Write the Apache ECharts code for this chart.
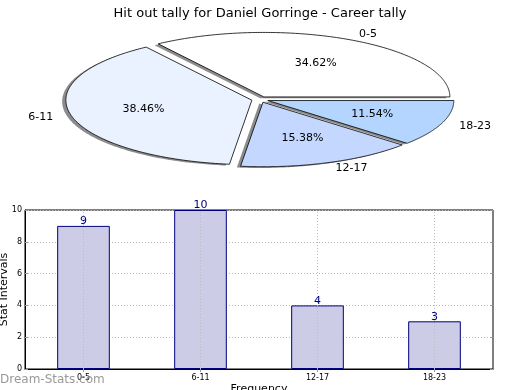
<!DOCTYPE html>
<html>
<head>
<meta charset="utf-8">
<script src="https://cdn.jsdelivr.net/npm/echarts@6/dist/echarts.min.js"></script>
<style>
html,body{margin:0;padding:0;background:#fff;}
#c{width:520px;height:390px;}
</style>
</head>
<body>
<div id="c"></div>
<script>
// ---- data ----
const titleText = 'Hit out tally for Daniel Gorringe - Career tally';
const categories = ['0-5', '6-11', '12-17', '18-23'];
const values = [9, 10, 4, 3];
const yAxisName = 'Stat Intervals';
const xAxisName = 'Frequency';
const watermark = 'Dream-Stats.com';

// ---- style ----
const pieColors = ['#ffffff', '#ebf2ff', '#c4d8ff', '#b4d5ff'];
const PIE = { cx: 260, cy: 99.5, rx: 186, ry: 64.5, explode: 0.045, labelDist: 1.1, pctDist: 0.6 };
const FONT = 'DejaVu Sans';

const total = values.reduce((a, b) => a + b, 0);

function wedge(idx, dx, dy) {
  let cum = 0;
  for (let i = 0; i < idx; i++) cum += values[i];
  const t1 = cum / total * 2 * Math.PI;
  const t2 = (cum + values[idx]) / total * 2 * Math.PI;
  const mid = (t1 + t2) / 2;
  const ox = PIE.cx + PIE.explode * PIE.rx * Math.cos(mid) + dx;
  const oy = PIE.cy - PIE.explode * PIE.ry * Math.sin(mid) + dy;
  const pts = [[ox, oy]];
  const n = 160;
  for (let k = 0; k <= n; k++) {
    const t = t1 + (t2 - t1) * k / n;
    pts.push([ox + PIE.rx * Math.cos(t), oy - PIE.ry * Math.sin(t)]);
  }
  return { pts, mid, ox, oy };
}

const chart = echarts.init(document.getElementById('c'), null, { renderer: 'canvas' });

const option = {
  animation: false,
  backgroundColor: '#ffffff',
  textStyle: { fontFamily: FONT },
  title: {
    text: titleText,
    left: 'center',
    top: 2,
    textStyle: { fontFamily: FONT, fontSize: 13, fontWeight: 'normal', color: '#000' }
  },
  graphic: [{
    type: 'text',
    left: 0,
    top: 374,
    z: 100,
    style: { text: watermark, fontFamily: FONT, fontSize: 12, fill: 'rgba(135,135,135,0.85)' }
  }],
  grid: {
    left: 25, right: 27, top: 210, bottom: 21,
    outerBoundsMode: 'none',
    containLabel: false,
    show: true, borderColor: '#000', borderWidth: 1, backgroundColor: 'transparent'
  },
  xAxis: [{
    type: 'category',
    data: categories,
    boundaryGap: true,
    name: xAxisName,
    nameLocation: 'middle',
    nameGap: 15,
    nameMoveOverlap: false,
    nameTextStyle: { fontFamily: FONT, fontSize: 11, color: '#000' },
    axisLine: { show: true, lineStyle: { color: '#000', width: 1 } },
    axisTick: { show: true, inside: true, alignWithLabel: true, length: 3, lineStyle: { color: '#999' } },
    axisLabel: { fontFamily: FONT, fontSize: 8, color: '#000', margin: 5 },
    splitLine: { show: false }
  }, {
    type: 'category',
    data: categories,
    position: 'top',
    boundaryGap: true,
    axisLine: { show: false },
    axisTick: { show: true, inside: true, alignWithLabel: true, length: 3, lineStyle: { color: '#999' } },
    axisLabel: { show: false },
    splitLine: { show: false }
  }],
  yAxis: [{
    type: 'value',
    min: 0, max: 10, interval: 2,
    name: yAxisName,
    nameLocation: 'middle',
    nameRotate: 90,
    nameGap: 15,
    nameMoveOverlap: false,
    nameTextStyle: { fontFamily: FONT, fontSize: 11, color: '#000' },
    axisLine: { show: true, lineStyle: { color: '#000', width: 1 } },
    axisTick: { show: true, inside: true, length: 3, lineStyle: { color: '#999' } },
    axisLabel: { fontFamily: FONT, fontSize: 8, color: '#000', margin: 3 },
    splitLine: { show: true, lineStyle: { color: '#bbb', type: [1, 2], width: 1 } }
  }, {
    type: 'value',
    min: 0, max: 10, interval: 2,
    position: 'right',
    axisLine: { show: false },
    axisTick: { show: true, inside: true, length: 3, lineStyle: { color: '#999' } },
    axisLabel: { show: false },
    splitLine: { show: false }
  }],
  series: [
    {
      type: 'bar',
      xAxisIndex: 0, yAxisIndex: 0,
      data: values,
      barWidth: '45%',
      itemStyle: { color: '#ccccE6', borderColor: '#000080', borderWidth: 1 },
      label: {
        show: true, position: 'top', distance: -1,
        fontFamily: FONT, fontSize: 11, color: '#000080'
      },
      markLine: {
        silent: true,
        symbol: ['none', 'none'],
        label: { show: false },
        lineStyle: { color: '#bbb', type: [1, 2], width: 1 },
        data: categories.map(c => ({ xAxis: c }))
      },
      z: 3
    },
    {
      type: 'custom',
      coordinateSystem: 'none',
      data: values.map(v => [v]),
      z: 1,
      silent: true,
      renderItem: function (params, api) {
        const g = wedge(params.dataIndex, -0.02 * PIE.rx, 0.02 * PIE.ry);
        return {
          type: 'polygon',
          shape: { points: g.pts },
          style: { fill: 'rgba(0,0,0,0.45)', stroke: null }
        };
      }
    },
    {
      type: 'custom',
      coordinateSystem: 'none',
      data: values.map(v => [v]),
      z: 2,
      silent: true,
      renderItem: function (params, api) {
        const i = params.dataIndex;
        const g = wedge(i, 0, 0);
        const c = Math.cos(g.mid), s = Math.sin(g.mid);
        const lx = g.ox + PIE.labelDist * PIE.rx * c;
        const ly = g.oy - PIE.labelDist * PIE.ry * s;
        const px = g.ox + PIE.pctDist * PIE.rx * c;
        const py = g.oy - PIE.pctDist * PIE.ry * s;
        const pct = (values[i] / total * 100).toFixed(2) + '%';
        return {
          type: 'group',
          children: [
            {
              type: 'polygon',
              shape: { points: g.pts },
              style: { fill: pieColors[i], stroke: '#000', lineWidth: 0.8 }
            },
            {
              type: 'text',
              style: {
                text: categories[i], x: lx, y: ly,
                align: c > 0 ? 'left' : 'right', verticalAlign: 'middle',
                fontFamily: FONT, fontSize: 11, fill: '#000'
              }
            },
            {
              type: 'text',
              style: {
                text: pct, x: px, y: py,
                align: 'center', verticalAlign: 'middle',
                fontFamily: FONT, fontSize: 11, fill: '#000'
              }
            }
          ]
        };
      }
    }
  ]
};
chart.setOption(option);
</script>
</body>
</html>
